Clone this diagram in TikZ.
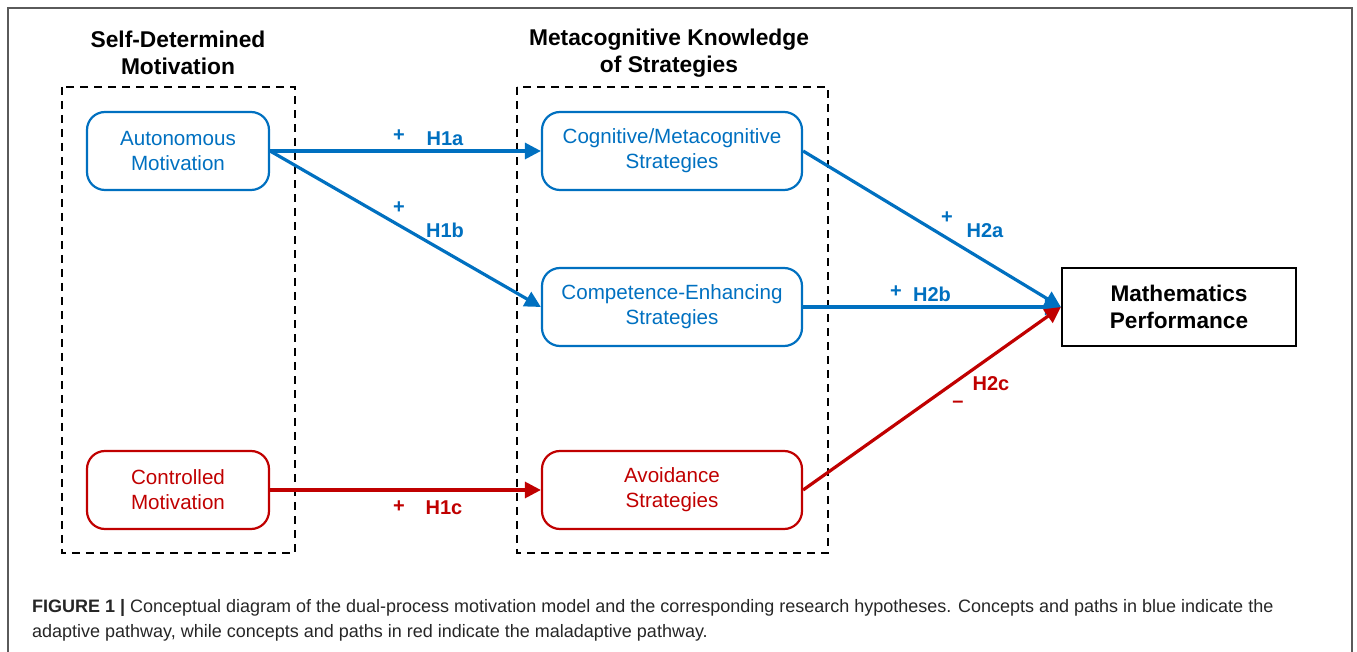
\documentclass[tikz,border=0pt]{standalone}
\usepackage{fontspec}
\setmainfont{Liberation Sans}
\usepackage{tikz}
\usetikzlibrary{arrows.meta}
\definecolor{hypblue}{RGB}{0,112,192}
\definecolor{hypred}{RGB}{192,0,0}
\definecolor{framegray}{RGB}{90,90,90}

\tikzset{
  concept/.style={draw, rounded corners=9pt, line width=1.1pt, minimum width=#1,
    minimum height=39pt, align=center, font=\fontsize{10.3}{12.5}\selectfont},
  outcome/.style={draw=black, line width=1.1pt, minimum width=117pt, minimum height=39pt,
    align=center, font=\fontsize{11.3}{13.5}\selectfont\bfseries},
  grouptitle/.style={align=center, font=\fontsize{11.4}{13.5}\selectfont\bfseries},
  groupbox/.style={draw=black, line width=0.8pt, dash pattern=on 4pt off 3pt},
  path/.style={line width=1.6pt, -{Triangle[length=8pt,width=8pt]}},
  hyp/.style={font=\fontsize{10}{12}\selectfont\bfseries}
}

\begin{document}
\begin{tikzpicture}[x=0.5pt,y=-0.5pt]
\useasboundingbox (0,0) rectangle (1357,652);

% outer frame
\draw [color=framegray, line width=0.8pt] (8,700) -- (8,8) -- (1352,8) -- (1352,700);

% groups
\draw [groupbox] (62,87) rectangle (295,553);
\draw [groupbox] (517,87) rectangle (828,553);
\node [grouptitle] (sdt) at (178,53) {Self-Determined\\Motivation};
\node [grouptitle] (mks) at (669,53) {Metacognitive Knowledge\\of Strategies};

% concepts
\node [concept=91pt, draw=hypblue, text=hypblue] (auto) at (178,151) {Autonomous\\Motivation};
\node [concept=91pt, draw=hypred, text=hypred] (ctrl) at (178,490) {Controlled\\Motivation};

\node [concept=130pt, draw=hypblue, text=hypblue] (cog) at (672,151) {Cognitive/Metacognitive\\Strategies};
\node [concept=130pt, draw=hypblue, text=hypblue] (comp) at (672,307) {Competence-Enhancing\\Strategies};
\node [concept=130pt, draw=hypred, text=hypred] (avoid) at (672,490) {Avoidance\\Strategies};

\node [outcome] (math) at (1179,307) {Mathematics\\Performance};

% paths
\draw [path, color=hypblue] (auto.east) -- (cog.west);
\draw [path, color=hypblue] (auto.east) -- (comp.west);
\draw [path, color=hypred] (ctrl.east) -- (avoid.west);

\draw [path, color=hypblue] (cog.east) -- (math.west);
\draw [path, color=hypblue] (comp.east) -- (math.west);
\draw [path, color=hypred] (avoid.east) -- (math.west);

% hypotheses
\node [hyp, text=hypblue] (s1a) at (399,136) {+};
\node [hyp, text=hypblue] (h1a) at (445,139) {H1a};
\node [hyp, text=hypblue] (s1b) at (399,208) {+};
\node [hyp, text=hypblue] (h1b) at (445,230) {H1b};
\node [hyp, text=hypred] (s1c) at (399,507) {+};
\node [hyp, text=hypred] (h1c) at (444,508) {H1c};

\node [hyp, text=hypblue] (s2a) at (947,218) {+};
\node [hyp, text=hypblue] (h2a) at (985,231) {H2a};
\node [hyp, text=hypblue] (s2b) at (896,292) {+};
\node [hyp, text=hypblue] (h2b) at (932,294) {H2b};
\node [hyp, text=hypred] (h2c) at (991,384) {H2c};
\node [hyp, text=hypred] (s2c) at (958,404) {\textendash};

% caption
\node [anchor=base west, align=left, text=black!85, font=\fontsize{9}{12.5}\selectfont]
  (cap) at (25,638) {\textbf{FIGURE 1 |} Conceptual diagram of the dual-process motivation model and the corresponding research hypotheses. Concepts and paths in blue indicate the\\adaptive pathway, while concepts and paths in red indicate the maladaptive pathway.};

\end{tikzpicture}
\end{document}
